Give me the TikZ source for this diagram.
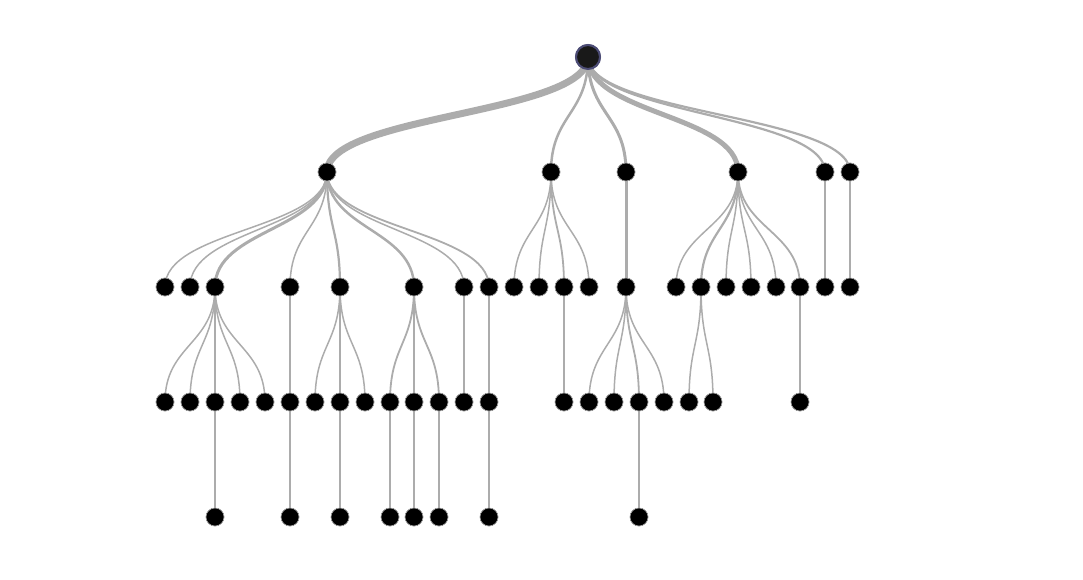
\documentclass[tikz,border=0pt]{standalone}
\usetikzlibrary{calc}
\begin{document}
\begin{tikzpicture}[x=1pt,y=-1pt,
  dot/.style={circle,fill=black,draw=gray!70,line width=0.6pt,minimum size=18pt,inner sep=0pt},
  rootdot/.style={circle,fill=black!90,draw=black!60!blue!40!gray,line width=2pt,minimum size=24pt,inner sep=0pt},
  lnk/.style={draw=gray!65,line cap=round}]
\useasboundingbox (0,0) rectangle (1083,580);
\node[rootdot] (r) at (588,57) {};
\foreach \x in {327,551,626,738,825,850} \node[dot] (A\x) at (\x,172) {};
\foreach \x in {165,190,215,290,340,414,464,489,514,539,564,589,626,676,701,726,751,776,800,825,850} \node[dot] (B\x) at (\x,287) {};
\foreach \x in {165,190,215,240,265,290,315,340,365,390,414,439,464,489,564,589,614,639,664,689,713,800} \node[dot] (C\x) at (\x,402) {};
\foreach \x in {215,290,340,390,414,439,489,639} \node[dot] (D\x) at (\x,517) {};
\begin{scope}[on background layer/.style={}]
\foreach \p/\c/\w in {r/A327/7,r/A551/2.5,r/A626/3,r/A738/5,r/A825/2.2,r/A850/2.2,
  A327/B165/1.5,A327/B190/1.5,A327/B215/3,A327/B290/1.5,A327/B340/2.2,A327/B414/2.5,A327/B464/1.5,A327/B489/1.8,
  A551/B514/1.5,A551/B539/1.5,A551/B564/1.8,A551/B589/1.5,
  A626/B626/3,
  A738/B676/1.5,A738/B701/2.2,A738/B726/1.5,A738/B751/1.5,A738/B776/1.5,A738/B800/1.8,
  A825/B825/1.5,A850/B850/1.5,
  B215/C165/1.5,B215/C190/1.5,B215/C215/1.8,B215/C240/1.5,B215/C265/1.5,
  B290/C290/1.8,B340/C315/1.5,B340/C340/1.8,B340/C365/1.5,
  B414/C390/1.8,B414/C414/1.8,B414/C439/1.8,B464/C464/1.5,B489/C489/1.8,
  B564/C564/1.5,B626/C589/1.5,B626/C614/1.5,B626/C639/1.8,B626/C664/1.5,
  B701/C689/1.5,B701/C713/1.5,B800/C800/1.5,
  C215/D215/1.5,C290/D290/1.5,C340/D340/1.5,C390/D390/1.5,C414/D414/1.5,C439/D439/1.5,C489/D489/1.5,C639/D639/1.5}
{
  \coordinate (m) at ($(\p.center)!0.5!(\c.center)$);
  \path[lnk,line width=\w pt] (\p.center) .. controls (\p.center |- m) and (\c.center |- m) .. (\c.center);
}
\end{scope}
% redraw nodes on top
\node[rootdot] at (588,57) {};
\foreach \x in {327,551,626,738,825,850} \node[dot] at (\x,172) {};
\foreach \x in {165,190,215,290,340,414,464,489,514,539,564,589,626,676,701,726,751,776,800,825,850} \node[dot] at (\x,287) {};
\foreach \x in {165,190,215,240,265,290,315,340,365,390,414,439,464,489,564,589,614,639,664,689,713,800} \node[dot] at (\x,402) {};
\foreach \x in {215,290,340,390,414,439,489,639} \node[dot] at (\x,517) {};
\end{tikzpicture}
\end{document}
